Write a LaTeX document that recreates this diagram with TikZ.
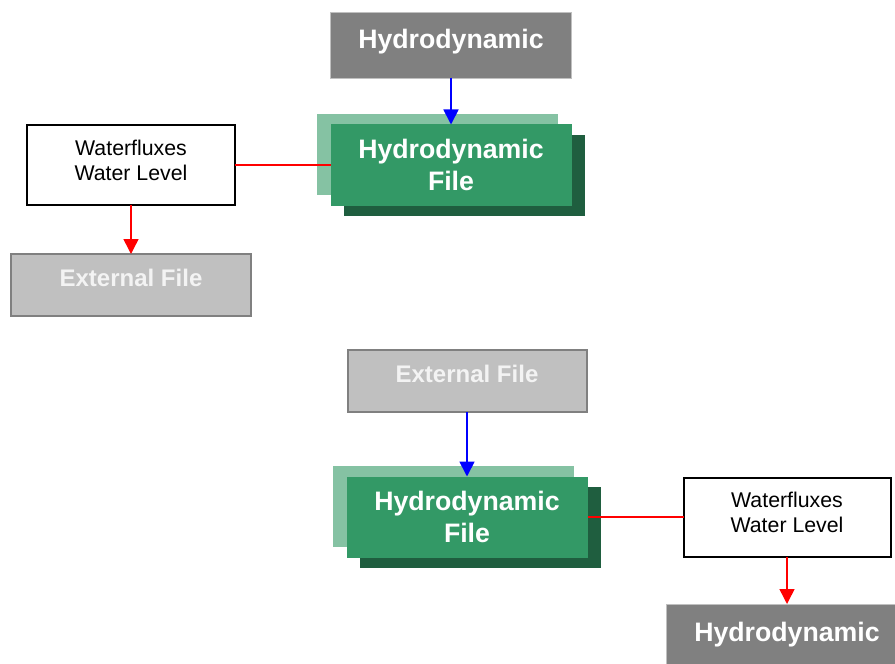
\documentclass[tikz,border=0pt]{standalone}
\usepackage{fontspec}
\setmainfont{Liberation Sans}
\usetikzlibrary{arrows.meta,shadows}
\definecolor{hydrogray}{HTML}{808080}
\definecolor{filegray}{HTML}{C0C0C0}
\definecolor{filetext}{HTML}{F3F3F3}
\definecolor{filegreen}{HTML}{339966}
\definecolor{fileback}{HTML}{85C2A3}
\definecolor{fileshadow}{HTML}{1F5E3F}

\begin{document}
\begin{tikzpicture}[x=1bp,y=-1bp,inner sep=0pt,outer sep=0pt,
    hydro/.style={fill=hydrogray,draw=filegray,line width=0.75bp,text=white,
        minimum width=241bp,minimum height=66bp,
        font=\fontsize{26.7bp}{32bp}\selectfont\bfseries,text height=19.5bp,text depth=11.5bp},
    extfile/.style={fill=filegray,draw=hydrogray,line width=2bp,text=filetext,
        minimum width=239bp,minimum height=62bp,
        font=\fontsize{24bp}{29bp}\selectfont\bfseries,text height=17.5bp,text depth=15bp},
    hydfile/.style={fill=filegreen,text=white,minimum width=241bp,minimum height=81bp,align=center,
        font=\fontsize{26.7bp}{32bp}\selectfont\bfseries,
        general shadow={fill=fileback,shadow xshift=-14bp,shadow yshift=10.5bp},
        general shadow={fill=fileshadow,shadow xshift=13bp,shadow yshift=-10.5bp}},
    fluxes/.style={fill=white,draw=black,line width=2bp,minimum width=207bp,minimum height=79bp,
        align=center,font=\fontsize{21.3bp}{25bp}\selectfont,text depth=10bp},
    feed/.style={draw=blue,line width=1.75bp,-{Triangle[width=15bp,length=15bp]}},
    link/.style={draw=red,line width=1.5bp},
    export/.style={link,-{Triangle[width=15bp,length=15bp]}}]
    %
    \useasboundingbox (0,0) rectangle (895,664);
    % hydrodynamic run writes the file
    \node[hydro] (hydroA) at (451,45) {Hydrodynamic};
    \node[hydfile] (fileA) at (451,165) {Hydrodynamic\\File};
    \node[fluxes] (fluxA) at (131,165) {Waterfluxes\\Water Level};
    \node[extfile] (extA) at (131,285) {External File};
    \draw[feed] (hydroA.south) -- (fileA.north);
    \draw[link] (fluxA.east) -- (fileA.west);
    \draw[export] (fluxA.south) -- (extA.north);
    % external file read back
    \node[extfile] (extB) at (467,381) {External File};
    \node[hydfile] (fileB) at (467,517) {Hydrodynamic\\File};
    \node[fluxes] (fluxB) at (787,517) {Waterfluxes\\Water Level};
    \node[hydro] (hydroB) at (787,637) {Hydrodynamic};
    \draw[feed] (extB.south) -- (fileB.north);
    \draw[link] (fileB.east) -- (fluxB.west);
    \draw[export] (fluxB.south) -- (hydroB.north);
\end{tikzpicture}
\end{document}
